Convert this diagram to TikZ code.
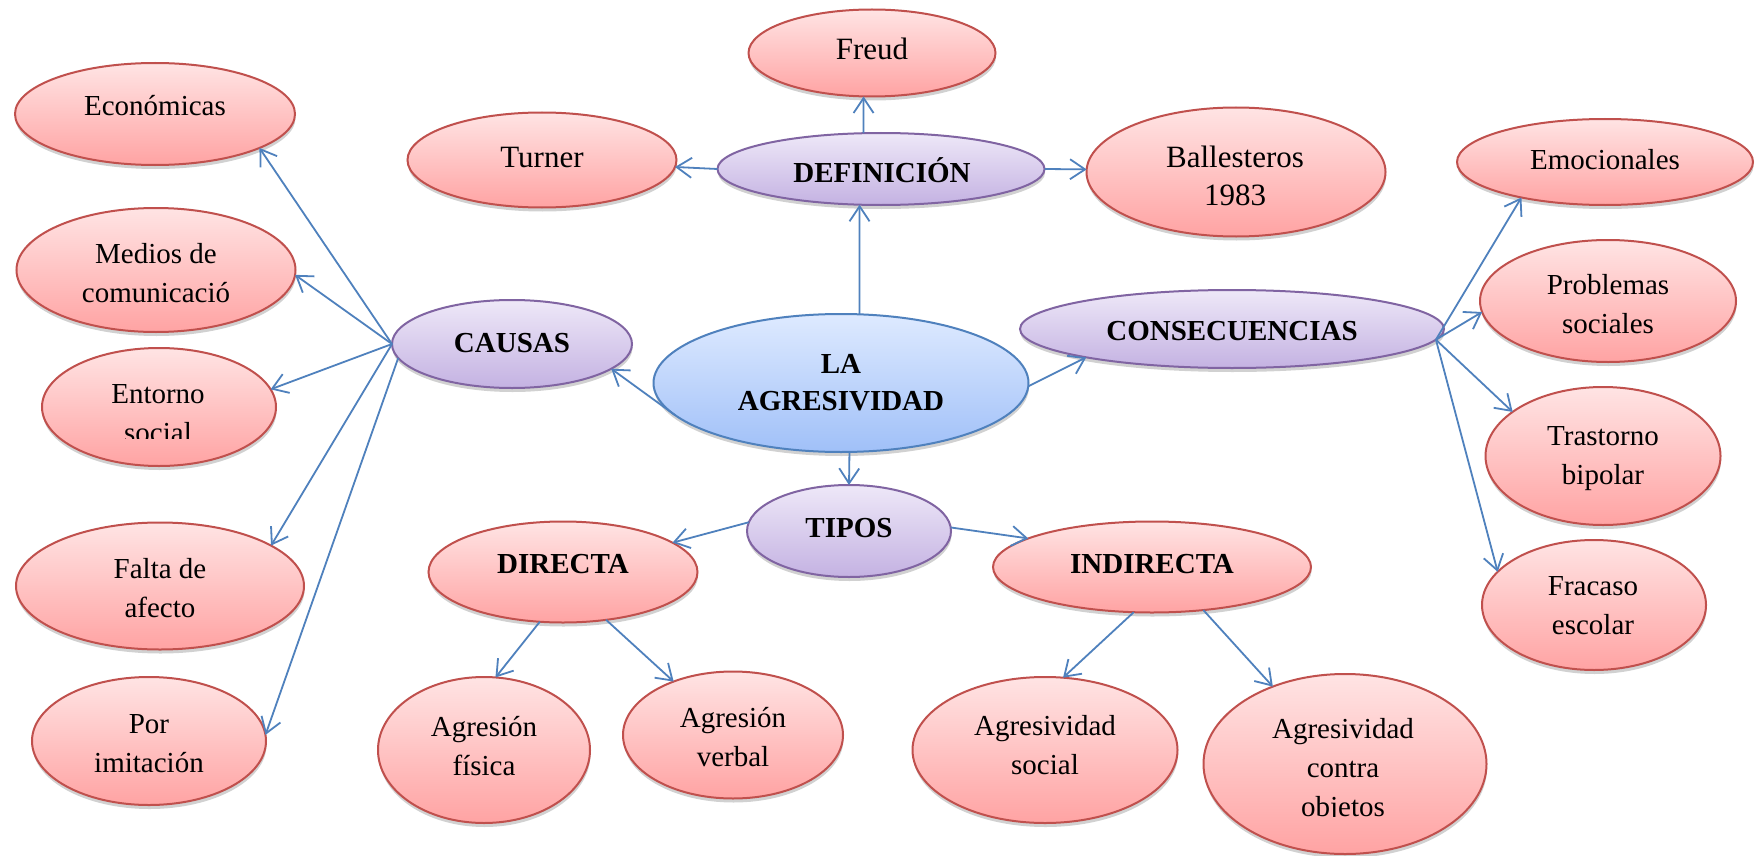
\documentclass[tikz,border=0pt]{standalone}
\usepackage{fontspec}
\setmainfont{Liberation Serif}
\usetikzlibrary{arrows.meta,shapes.geometric,shadows}
\definecolor{pinkTop}{RGB}{255,228,228}
\definecolor{pinkBot}{RGB}{255,163,163}
\definecolor{pinkBorder}{RGB}{192,80,77}
\definecolor{purTop}{RGB}{238,232,248}
\definecolor{purBot}{RGB}{196,178,226}
\definecolor{purBorder}{RGB}{128,100,162}
\definecolor{bluTop}{RGB}{222,234,255}
\definecolor{bluBot}{RGB}{160,192,248}
\definecolor{bluBorder}{RGB}{79,129,189}
\definecolor{arrowblue}{RGB}{79,129,189}
\newcommand{\mlines}[1]{\begin{tabular}[t]{@{}c@{}}#1\end{tabular}}
\tikzset{
  ebox/.style={ellipse, inner sep=0pt, outer sep=0pt, line width=2pt,
    drop shadow={shadow xshift=0.5pt, shadow yshift=-4pt, opacity=0.18, fill=black}},
  pinkE/.style={ebox, draw=pinkBorder, top color=pinkTop, bottom color=pinkBot},
  purE/.style={ebox, draw=purBorder, top color=purTop, bottom color=purBot},
  bluE/.style={ebox, draw=bluBorder, top color=bluTop, bottom color=bluBot},
  lbl/.style={anchor=base, inner sep=0pt, font={\fontsize{29}{39}\selectfont}},
  biglbl/.style={anchor=base, inner sep=0pt, font={\fontsize{31}{39}\selectfont}},
  blbl/.style={anchor=base, inner sep=0pt, font={\fontsize{29}{37}\selectfont\bfseries}},
  arr/.style={draw=arrowblue, line width=1.8pt,
    -{Straight Barb[length=15pt,width=20pt,line width=1.8pt]}}
}
\begin{document}
\begin{tikzpicture}[x=1pt,y=-1pt]
\fill[white] (0,0) rectangle (1758,856);
\useasboundingbox (0,0) rectangle (1758,856);

% ellipses
\node[pinkE, minimum width=247pt, minimum height=87pt] (freud) at (872,53) {};
\node[pinkE, minimum width=269pt, minimum height=95pt] (turner) at (542,160) {};
\node[purE, minimum width=327pt, minimum height=72pt] (defi) at (881,169) {};
\node[pinkE, minimum width=299pt, minimum height=129pt] (ball) at (1236,172) {};
\node[pinkE, minimum width=280pt, minimum height=102pt] (eco) at (155,114) {};
\node[pinkE, minimum width=279pt, minimum height=124pt] (medios) at (156,270) {};
\node[pinkE, minimum width=234pt, minimum height=118pt] (entorno) at (159,407) {};
\node[purE, minimum width=240pt, minimum height=88pt] (causas) at (512,344) {};
\node[bluE, minimum width=375pt, minimum height=138pt] (agre) at (841,383) {};
\node[purE, minimum width=424pt, minimum height=78pt] (conse) at (1232,329) {};
\node[pinkE, minimum width=296pt, minimum height=86pt] (emo) at (1605,162) {};
\node[pinkE, minimum width=256pt, minimum height=122pt] (prob) at (1608,301) {};
\node[pinkE, minimum width=235pt, minimum height=138pt] (tras) at (1603,456) {};
\node[pinkE, minimum width=224pt, minimum height=130pt] (frac) at (1594,605) {};
\node[pinkE, minimum width=288pt, minimum height=127pt] (falta) at (160,586) {};
\node[pinkE, minimum width=234pt, minimum height=128pt] (por) at (149,741) {};
\node[purE, minimum width=204pt, minimum height=92pt] (tipos) at (849,531) {};
\node[pinkE, minimum width=269pt, minimum height=101pt] (dir) at (563,572) {};
\node[pinkE, minimum width=318pt, minimum height=91pt] (indir) at (1152,567) {};
\node[pinkE, minimum width=212pt, minimum height=146pt] (fis) at (484,750) {};
\node[pinkE, minimum width=220pt, minimum height=127pt] (verb) at (733,735) {};
\node[pinkE, minimum width=265pt, minimum height=146pt] (asoc) at (1045,750) {};
\node[pinkE, minimum width=283pt, minimum height=180pt] (aobj) at (1345,764) {};

% texts
\node[biglbl] (freud-t) at (872,60) {Freud};
\node[biglbl] (turner-t) at (542,167) {Turner};
\node[blbl] (defi-t) at (882,182) {DEFINICIÓN};
\begin{scope}
\clip (0,0) rectangle (1758,206);
\node[biglbl] (ball-t) at (1235,167) {\mlines{Ballesteros\\1983}};
\end{scope}
\node[lbl] (eco-t) at (155,116) {Económicas};
\node[lbl] (medios-t) at (156,263) {\mlines{Medios de\\comunicació}};
\begin{scope}
\clip (0,0) rectangle (1758,438);
\node[lbl] (entorno-t) at (158,403) {\mlines{Entorno\\social}};
\end{scope}
\node[blbl] (causas-t) at (512,352) {CAUSAS};
\node[blbl] (agre-t) at (841,373) {\mlines{LA\\AGRESIVIDAD}};
\node[blbl] (conse-t) at (1232,340) {CONSECUENCIAS};
\node[lbl] (emo-t) at (1605,169) {Emocionales};
\node[lbl] (prob-t) at (1608,294) {\mlines{Problemas\\sociales}};
\node[lbl] (tras-t) at (1603,445) {\mlines{Trastorno\\bipolar}};
\node[lbl] (frac-t) at (1593,595) {\mlines{Fracaso\\escolar}};
\node[lbl] (falta-t) at (160,578) {\mlines{Falta de\\afecto}};
\node[lbl] (por-t) at (149,733) {\mlines{Por\\imitación}};
\node[blbl] (tipos-t) at (849,537) {TIPOS};
\node[blbl] (dir-t) at (563,573) {DIRECTA};
\node[blbl] (indir-t) at (1152,573) {INDIRECTA};
\node[lbl] (fis-t) at (484,736) {\mlines{Agresión\\física}};
\node[lbl] (verb-t) at (733,727) {\mlines{Agresión\\verbal}};
\node[lbl] (asoc-t) at (1045,735) {\mlines{Agresividad\\social}};
\begin{scope}
\clip (0,0) rectangle (1758,816);
\node[lbl] (aobj-t) at (1343,738) {\mlines{Agresividad\\contra\\objetos}};
\end{scope}

% connectors
\draw[arr] (agre.75.4) -- (defi.-121.4);
\draw[arr] (defi.116.6) -- (freud.-101.8);
\draw[arr] (defi.west) -- (turner.-3.8);
\draw[arr] (defi.east) -- (ball.179.2);
\draw[arr] (agre.-169.8) -- (causas.-14.5);
\draw[arr] (agre.-1.5) -- (conse.-169.3);
\draw[arr] (agre.-83.4) -- (tipos.north);
\draw[arr] (causas.west) -- (eco.-18.4);
\draw[arr] (causas.west) -- (medios.-2);
\draw[arr] (causas.west) -- (entorno.9.5);
\draw[arr] (causas.west) -- (falta.20.7);
\draw[arr] (causas.-173) -- (por.3.9);
\draw[arr] (conse.-3) -- (emo.-157.3);
\draw[arr] (conse.-3) -- (prob.-175);
\draw[arr] (conse.-3) -- (tras.154.9);
\draw[arr] (conse.-3) -- (frac.161.2);
\draw[arr] (tipos.175.5) -- (dir.15.6);
\draw[arr] (tipos.2.3) -- (indir.167.8);
\draw[arr] (dir.-115.6) -- (fis.81.5);
\draw[arr] (dir.-48) -- (verb.138.8);
\draw[arr] (indir.-112.4) -- (asoc.76.3);
\draw[arr] (indir.-40.4) -- (aobj.133.5);
\end{tikzpicture}
\end{document}
